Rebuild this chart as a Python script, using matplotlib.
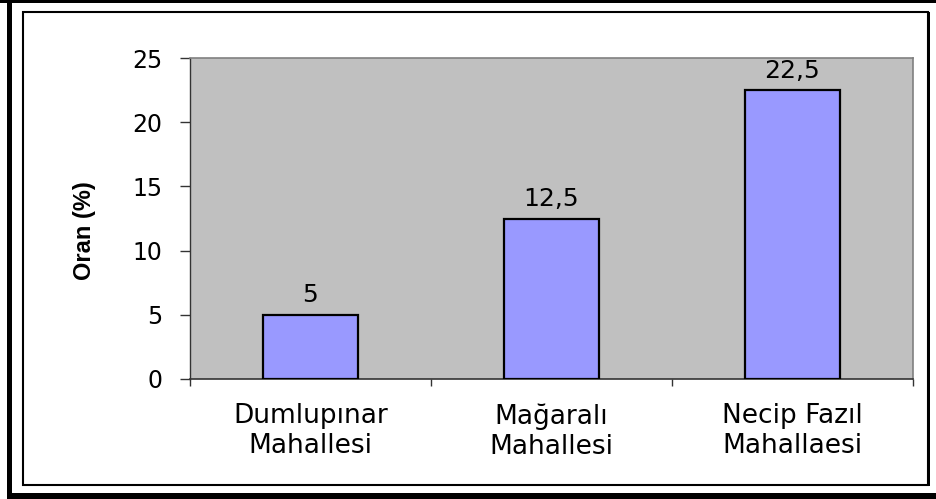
import matplotlib.pyplot as plt
from matplotlib.patches import Rectangle

plt.rcParams['font.family'] = ['DejaVu Sans']

categories = ['Dumlupınar\nMahallesi', 'Mağaralı\nMahallesi', 'Necip Fazıl\nMahallaesi']
values = [5, 12.5, 22.5]
value_labels = ['5', '12,5', '22,5']
y_ticks = [0, 5, 10, 15, 20, 25]

W, H = 937, 499
fig = plt.figure(figsize=(W / 100, H / 100), dpi=100)


def px_rect(x0, y0, x1, y1, **kw):
    # rectangle given in image pixel coords (y from top)
    r = Rectangle((x0 / W, 1 - y1 / H), (x1 - x0) / W, (y1 - y0) / H,
                  transform=fig.transFigure, **kw)
    fig.patches.append(r)


# outer black border (cropped on the right)
px_rect(0, 0, W, 3, facecolor='black', edgecolor='none')
px_rect(7, 0, 12, H, facecolor='black', edgecolor='none')
px_rect(7, 493, W, H, facecolor='black', edgecolor='none')
# inner thin frame with darker right/bottom edge
px_rect(23.5, 11.5, 928, 484.5, facecolor='none', edgecolor='black', linewidth=1.5)
px_rect(927, 11.5, 930, 485.5, facecolor='black', edgecolor='none')

ax = fig.add_axes([190 / W, 1 - 379 / H, (913 - 190) / W, (379 - 58) / H])
ax.set_facecolor('#C0C0C0')

x = list(range(len(categories)))
bars = ax.bar(x, values, width=0.394, color='#9999FF', edgecolor='black', linewidth=1.6, zorder=3)

for xi, v, lab in zip(x, values, value_labels):
    ax.annotate(lab, (xi, v), xytext=(0, 9), textcoords='offset points',
                ha='center', va='baseline', fontsize=18, color='black')

ax.set_xlim(-0.5, len(categories) - 0.5)
ax.set_ylim(0, 25)
ax.set_yticks(y_ticks)
ax.set_yticklabels([str(t) for t in y_ticks], fontsize=17)
ax.tick_params(axis='y', direction='out', length=7, width=1, pad=13, color='#333333')

ax.set_xticks(x)
ax.set_xticklabels(categories, fontsize=19, linespacing=1.2)
ax.tick_params(axis='x', which='major', length=0, pad=17.5)
ax.set_xticks([-0.5, 0.5, 1.5, 2.5], minor=True)
ax.tick_params(axis='x', which='minor', direction='out', length=5, width=1, color='#333333')

for side in ['top', 'right']:
    ax.spines[side].set_color('#808080')
    ax.spines[side].set_linewidth(1.2)
ax.spines['left'].set_color('#333333')
ax.spines['bottom'].set_color('#333333')
ax.spines['left'].set_linewidth(1)
ax.spines['bottom'].set_linewidth(1.2)

fig.text(85 / W, 1 - 231 / H, 'Oran (%)', rotation=90, ha='center', va='center',
         fontsize=17, fontweight='bold', family='Liberation Sans')

fig.savefig('out.png', dpi=100)
